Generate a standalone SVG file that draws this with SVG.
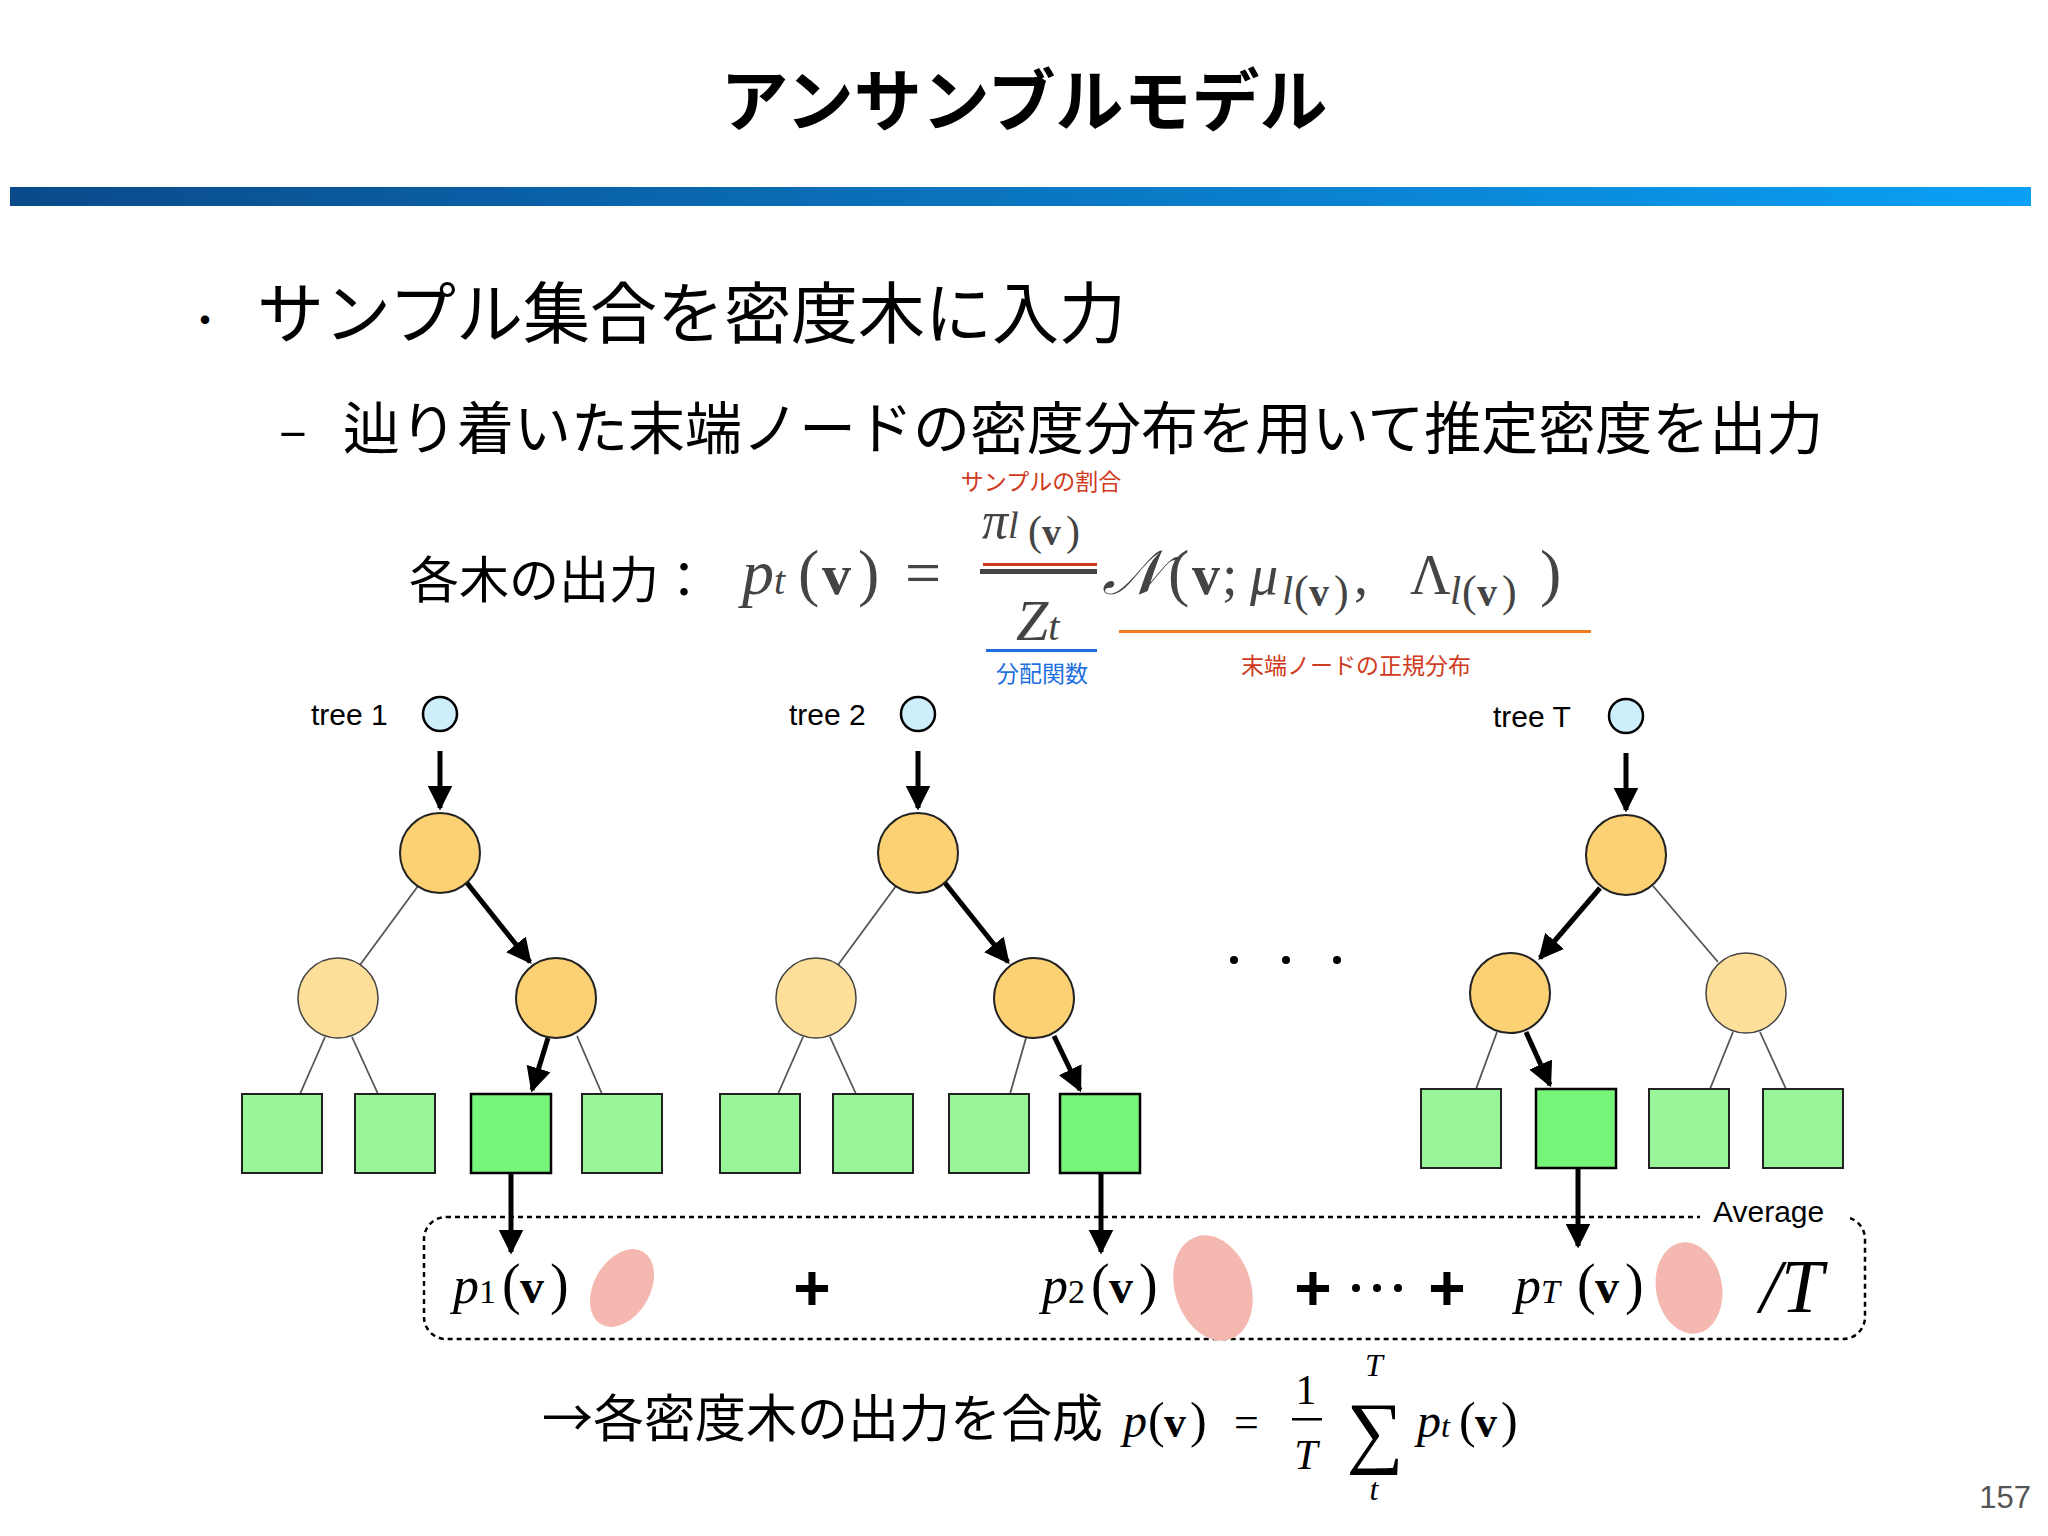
<svg xmlns="http://www.w3.org/2000/svg" width="2048" height="1536" viewBox="0 0 2048 1536">
<defs>
<linearGradient id="bar" x1="0" x2="1" y1="0" y2="0"><stop offset="0" stop-color="#0a4a8a"/><stop offset="1" stop-color="#0aa0f5"/></linearGradient>
<marker id="ah" viewBox="0 0 10 10" refX="9" refY="5" markerWidth="5" markerHeight="5" orient="auto-start-reverse"><path d="M0,0 L10,5 L0,10 z" fill="#000"/></marker>
<style>
.jp{font-family:"Noto Sans CJK JP","Liberation Sans",sans-serif;}
.m{font-family:"Liberation Serif","DejaVu Serif",serif;font-style:italic;}
.b{font-family:"Liberation Serif","DejaVu Serif",serif;font-weight:bold;}
.r{font-family:"Liberation Serif","DejaVu Serif",serif;}
.s{font-family:"Liberation Sans",sans-serif;}
.in{fill:#cdeefb;stroke:#000;stroke-width:2.5}
.n1{fill:#fcd173;stroke:#222;stroke-width:2}
.n2{fill:#fddf9a;stroke:#444;stroke-width:1.5}
.lf{fill:#98f598;stroke:#222;stroke-width:2}
.ls{fill:#76f57a;stroke:#000;stroke-width:2.5}
.thin{stroke:#555;stroke-width:1.8;fill:none}
.thick{stroke:#000;stroke-width:5;fill:none;marker-end:url(#ah)}
.el{fill:#f4b8b0}
</style>
</defs>
<rect width="2048" height="1536" fill="#fff"/>
<text class="jp" x="1024" y="126" font-size="68" font-weight="bold" text-anchor="middle">アンサンブルモデル</text>
<rect x="10" y="187" width="2021" height="19" fill="url(#bar)"/>
<text class="jp" x="185" y="335" font-size="40">・</text>
<text class="jp" x="257" y="338" font-size="67">サンプル集合を密度木に入力</text>
<text class="jp" x="279" y="449" font-size="52">–</text>
<text class="jp" x="343" y="449" font-size="57">辿り着いた末端ノードの密度分布を用いて推定密度を出力</text>
<text class="jp" x="1041" y="490" font-size="23" fill="#d03a20" text-anchor="middle">サンプルの割合</text>
<text class="jp" x="409" y="598" font-size="50">各木の出力：</text>
<g fill="#444">
<text class="m" x="742" y="594" font-size="64">p<tspan font-size="40">t</tspan></text>
<text class="r" x="798" y="594" font-size="64">(</text><text class="b" x="822" y="594" font-size="58">v</text><text class="r" x="858" y="594" font-size="64">)</text>
<text class="r" x="905" y="594" font-size="64">=</text>
<text class="m" x="982" y="538" font-size="52">π<tspan font-size="38">l</tspan></text><text class="r" x="1028" y="545" font-size="42">(</text><text class="b" x="1042" y="545" font-size="38">v</text><text class="r" x="1066" y="545" font-size="42">)</text>
<text class="m" x="1016" y="640" font-size="58">Z<tspan font-size="40">t</tspan></text>
<text class="m" x="1102" y="594" font-size="62">𝒩</text>
<text class="r" x="1168" y="594" font-size="64">(</text><text class="b" x="1192" y="594" font-size="56">v</text><text class="r" x="1222" y="594" font-size="56">;</text>
<text class="m" x="1250" y="594" font-size="56">μ</text><text class="m" x="1282" y="604" font-size="40">l</text><text class="r" x="1294" y="606" font-size="44">(</text><text class="b" x="1309" y="606" font-size="40">v</text><text class="r" x="1334" y="606" font-size="44">)</text><text class="r" x="1354" y="594" font-size="56">,</text>
<text class="r" x="1410" y="594" font-size="56">Λ</text><text class="m" x="1450" y="604" font-size="40">l</text><text class="r" x="1462" y="606" font-size="44">(</text><text class="b" x="1477" y="606" font-size="40">v</text><text class="r" x="1502" y="606" font-size="44">)</text><text class="r" x="1540" y="594" font-size="64">)</text>
</g>
<rect x="980" y="569" width="117" height="5" fill="#444"/>
<rect x="983" y="563" width="114" height="3" fill="#d03a20"/>
<rect x="986" y="649" width="111" height="3" fill="#1e6fe0"/>
<rect x="1119" y="630" width="472" height="3" fill="#f07a20"/>
<text class="jp" x="1042" y="682" font-size="23" fill="#1e6fe0" text-anchor="middle">分配関数</text>
<text class="jp" x="1356" y="674" font-size="23" fill="#d03a20" text-anchor="middle">末端ノードの正規分布</text>

<g id="connectors">
<line class="thick" x1="440" y1="751" x2="440" y2="808"/>
<line class="thin" x1="418" y1="886" x2="360" y2="965"/>
<line class="thick" x1="467" y1="883" x2="530" y2="962"/>
<line class="thin" x1="325" y1="1037" x2="300" y2="1094"/>
<line class="thin" x1="352" y1="1037" x2="378" y2="1094"/>
<line class="thick" x1="548" y1="1038" x2="532" y2="1090"/>
<line class="thin" x1="577" y1="1036" x2="602" y2="1094"/>
<line class="thick" x1="511" y1="1173" x2="511" y2="1252"/>
<line class="thick" x1="918" y1="751" x2="918" y2="808"/>
<line class="thin" x1="896" y1="886" x2="838" y2="965"/>
<line class="thick" x1="945" y1="883" x2="1008" y2="962"/>
<line class="thin" x1="803" y1="1037" x2="778" y2="1094"/>
<line class="thin" x1="830" y1="1037" x2="856" y2="1094"/>
<line class="thin" x1="1026" y1="1038" x2="1010" y2="1094"/>
<line class="thick" x1="1054" y1="1036" x2="1080" y2="1090"/>
<line class="thick" x1="1101" y1="1173" x2="1101" y2="1252"/>
<line class="thick" x1="1626" y1="753" x2="1626" y2="810"/>
<line class="thick" x1="1600" y1="888" x2="1540" y2="958"/>
<line class="thin" x1="1653" y1="886" x2="1718" y2="962"/>
<line class="thin" x1="1497" y1="1032" x2="1476" y2="1089"/>
<line class="thick" x1="1526" y1="1032" x2="1550" y2="1085"/>
<line class="thin" x1="1733" y1="1032" x2="1710" y2="1089"/>
<line class="thin" x1="1760" y1="1032" x2="1786" y2="1089"/>
<line class="thick" x1="1578" y1="1168" x2="1578" y2="1246"/>
</g>

<g id="tree1">
<text class="s" x="311" y="725" font-size="30">tree 1</text>
<circle class="in" cx="440" cy="714" r="17"/>
<circle class="n1" cx="440" cy="853" r="40"/>
<circle class="n2" cx="338" cy="998" r="40"/>
<circle class="n1" cx="556" cy="998" r="40"/>
<rect class="lf" x="242" y="1094" width="80" height="79"/>
<rect class="lf" x="355" y="1094" width="80" height="79"/>
<rect class="ls" x="471" y="1094" width="80" height="79"/>
<rect class="lf" x="582" y="1094" width="80" height="79"/>
</g>
<g id="tree2">
<text class="s" x="789" y="725" font-size="30">tree 2</text>
<circle class="in" cx="918" cy="714" r="17"/>
<circle class="n1" cx="918" cy="853" r="40"/>
<circle class="n2" cx="816" cy="998" r="40"/>
<circle class="n1" cx="1034" cy="998" r="40"/>
<rect class="lf" x="720" y="1094" width="80" height="79"/>
<rect class="lf" x="833" y="1094" width="80" height="79"/>
<rect class="lf" x="949" y="1094" width="80" height="79"/>
<rect class="ls" x="1060" y="1094" width="80" height="79"/>
</g>
<g id="dots" fill="#000">
<circle cx="1234" cy="960" r="4"/><circle cx="1286" cy="960" r="4"/><circle cx="1337" cy="960" r="4"/>
</g>
<g id="treeT">
<text class="s" x="1493" y="727" font-size="30">tree T</text>
<circle class="in" cx="1626" cy="716" r="17"/>
<circle class="n1" cx="1626" cy="855" r="40"/>
<circle class="n1" cx="1510" cy="993" r="40"/>
<circle class="n2" cx="1746" cy="993" r="40"/>
<rect class="lf" x="1421" y="1089" width="80" height="79"/>
<rect class="ls" x="1536" y="1089" width="80" height="79"/>
<rect class="lf" x="1649" y="1089" width="80" height="79"/>
<rect class="lf" x="1763" y="1089" width="80" height="79"/>
</g>

<g id="average">
<rect x="424" y="1217" width="1441" height="122" rx="22" fill="none" stroke="#000" stroke-width="2.5" stroke-dasharray="5,4"/>
<rect x="1700" y="1200" width="150" height="36" fill="#fff"/>
<text class="s" x="1713" y="1222" font-size="30">Average</text>
<g fill="#000">
<text class="m" x="453" y="1303" font-size="52">p<tspan class="r" font-style="normal" font-size="34">1</tspan></text><text class="r" x="502" y="1303" font-size="56">(</text><text class="b" x="520" y="1303" font-size="48">v</text><text class="r" x="550" y="1303" font-size="56">)</text>
<ellipse class="el" cx="622" cy="1288" rx="28" ry="42" transform="rotate(30 622 1288)"/>
<text class="s" x="812" y="1310" font-size="64" font-weight="bold" text-anchor="middle">+</text>
<text class="m" x="1042" y="1303" font-size="52">p<tspan class="r" font-style="normal" font-size="34">2</tspan></text><text class="r" x="1091" y="1303" font-size="56">(</text><text class="b" x="1109" y="1303" font-size="48">v</text><text class="r" x="1139" y="1303" font-size="56">)</text>
<ellipse class="el" cx="1213" cy="1288" rx="38" ry="54" transform="rotate(-18 1213 1288)"/>
<text class="s" x="1313" y="1310" font-size="64" font-weight="bold" text-anchor="middle">+</text>
<circle cx="1356" cy="1288" r="4"/><circle cx="1377" cy="1288" r="4"/><circle cx="1398" cy="1288" r="4"/>
<text class="s" x="1447" y="1310" font-size="64" font-weight="bold" text-anchor="middle">+</text>
<text class="m" x="1515" y="1303" font-size="52">p<tspan font-size="34">T</tspan></text><text class="r" x="1577" y="1303" font-size="56">(</text><text class="b" x="1595" y="1303" font-size="48">v</text><text class="r" x="1625" y="1303" font-size="56">)</text>
<ellipse class="el" cx="1689" cy="1288" rx="33" ry="46" transform="rotate(-10 1689 1288)"/>
<text class="m" x="1760" y="1312" font-size="76">/T</text>
</g>
</g>

<g id="result" fill="#000">
<text class="jp" x="542" y="1437" font-size="51">→各密度木の出力を合成</text>
<text class="m" x="1123" y="1437" font-size="48">p</text><text class="r" x="1148" y="1437" font-size="50">(</text><text class="b" x="1164" y="1437" font-size="44">v</text><text class="r" x="1190" y="1437" font-size="50">)</text>
<text class="r" x="1234" y="1437" font-size="44">=</text>
<text class="r" x="1306" y="1404" font-size="42" text-anchor="middle">1</text>
<rect x="1292" y="1418" width="30" height="2.5"/>
<text class="m" x="1306" y="1469" font-size="42" text-anchor="middle">T</text>
<text class="r" x="1375" y="1458" font-size="80" text-anchor="middle">∑</text>
<text class="m" x="1374" y="1376" font-size="32" text-anchor="middle">T</text>
<text class="m" x="1374" y="1500" font-size="32" text-anchor="middle">t</text>
<text class="m" x="1417" y="1437" font-size="48">p<tspan font-size="32">t</tspan></text><text class="r" x="1459" y="1437" font-size="50">(</text><text class="b" x="1475" y="1437" font-size="44">v</text><text class="r" x="1501" y="1437" font-size="50">)</text>
</g>
<text class="s" x="2031" y="1508" font-size="31" fill="#555" text-anchor="end">157</text>
</svg>
